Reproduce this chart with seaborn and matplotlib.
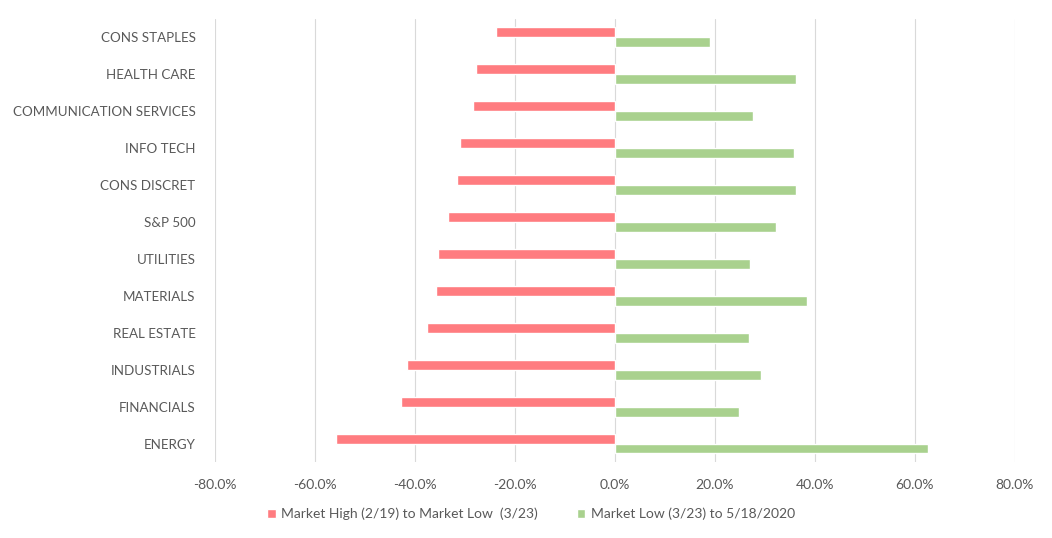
import numpy as np
import pandas as pd
import matplotlib
matplotlib.use('Agg')
import matplotlib.pyplot as plt
import seaborn as sns

# Data (percent)
sectors = ['CONS STAPLES', 'HEALTH CARE', 'COMMUNICATION SERVICES', 'INFO TECH',
           'CONS DISCRET', 'S&P 500', 'UTILITIES', 'MATERIALS', 'REAL ESTATE',
           'INDUSTRIALS', 'FINANCIALS', 'ENERGY']
high_to_low = [-23.9, -27.8, -28.5, -31.0, -31.7, -33.5, -35.4, -35.9, -37.6, -41.6, -42.8, -55.8]
low_to_may = [19.1, 36.2, 27.7, 35.9, 36.2, 32.2, 27.1, 38.5, 26.9, 29.2, 24.9, 62.7]
series_names = ['Market High (2/19) to Market Low  (3/23)', 'Market Low (3/23) to 5/18/2020']
x_ticks = [-80, -60, -40, -20, 0, 20, 40, 60, 80]

RED = '#FF7C80'
GREEN = '#A9D18E'
TEXT = '#595959'

df = pd.DataFrame({
    'sector': sectors * 2,
    'value': high_to_low + low_to_may,
    'series': [series_names[0]] * len(sectors) + [series_names[1]] * len(sectors),
})

sns.set_theme(style='white')
plt.rcParams['font.family'] = ['Lato', 'DejaVu Sans']

fig = plt.figure(figsize=(10.52, 5.38), dpi=100)
ax = fig.add_axes([0.2044, 0.1413, 0.7604, 0.8243])

sns.barplot(data=df, y='sector', x='value', hue='series', order=sectors,
            hue_order=series_names, palette=[RED, GREEN], orient='h',
            width=0.54, dodge=True, saturation=1, ax=ax, legend=True)

ax.set_xlim(-80, 80)
ax.set_xticks(x_ticks)
ax.set_xticklabels([f'{t:.1f}%' for t in x_ticks])
ax.grid(axis='x', color='#D9D9D9', linewidth=0.8)
ax.set_axisbelow(True)
ax.set_xlabel('')
ax.set_ylabel('')
for s in ax.spines.values():
    s.set_visible(False)
ax.tick_params(axis='both', length=0, colors=TEXT, labelsize=10)
ax.tick_params(axis='y', labelsize=9.6, pad=14)
ax.tick_params(axis='x', pad=12)

handles, labels = ax.get_legend_handles_labels()
ax.get_legend().remove()
fig.legend(handles, labels, loc='lower center', bbox_to_anchor=(0.505, 0.01),
           ncol=2, frameon=False, fontsize=10, handlelength=0.6, handleheight=0.6,
           handletextpad=0.4, columnspacing=2.8, labelcolor=TEXT)

fig.savefig('out.png', dpi=100)
